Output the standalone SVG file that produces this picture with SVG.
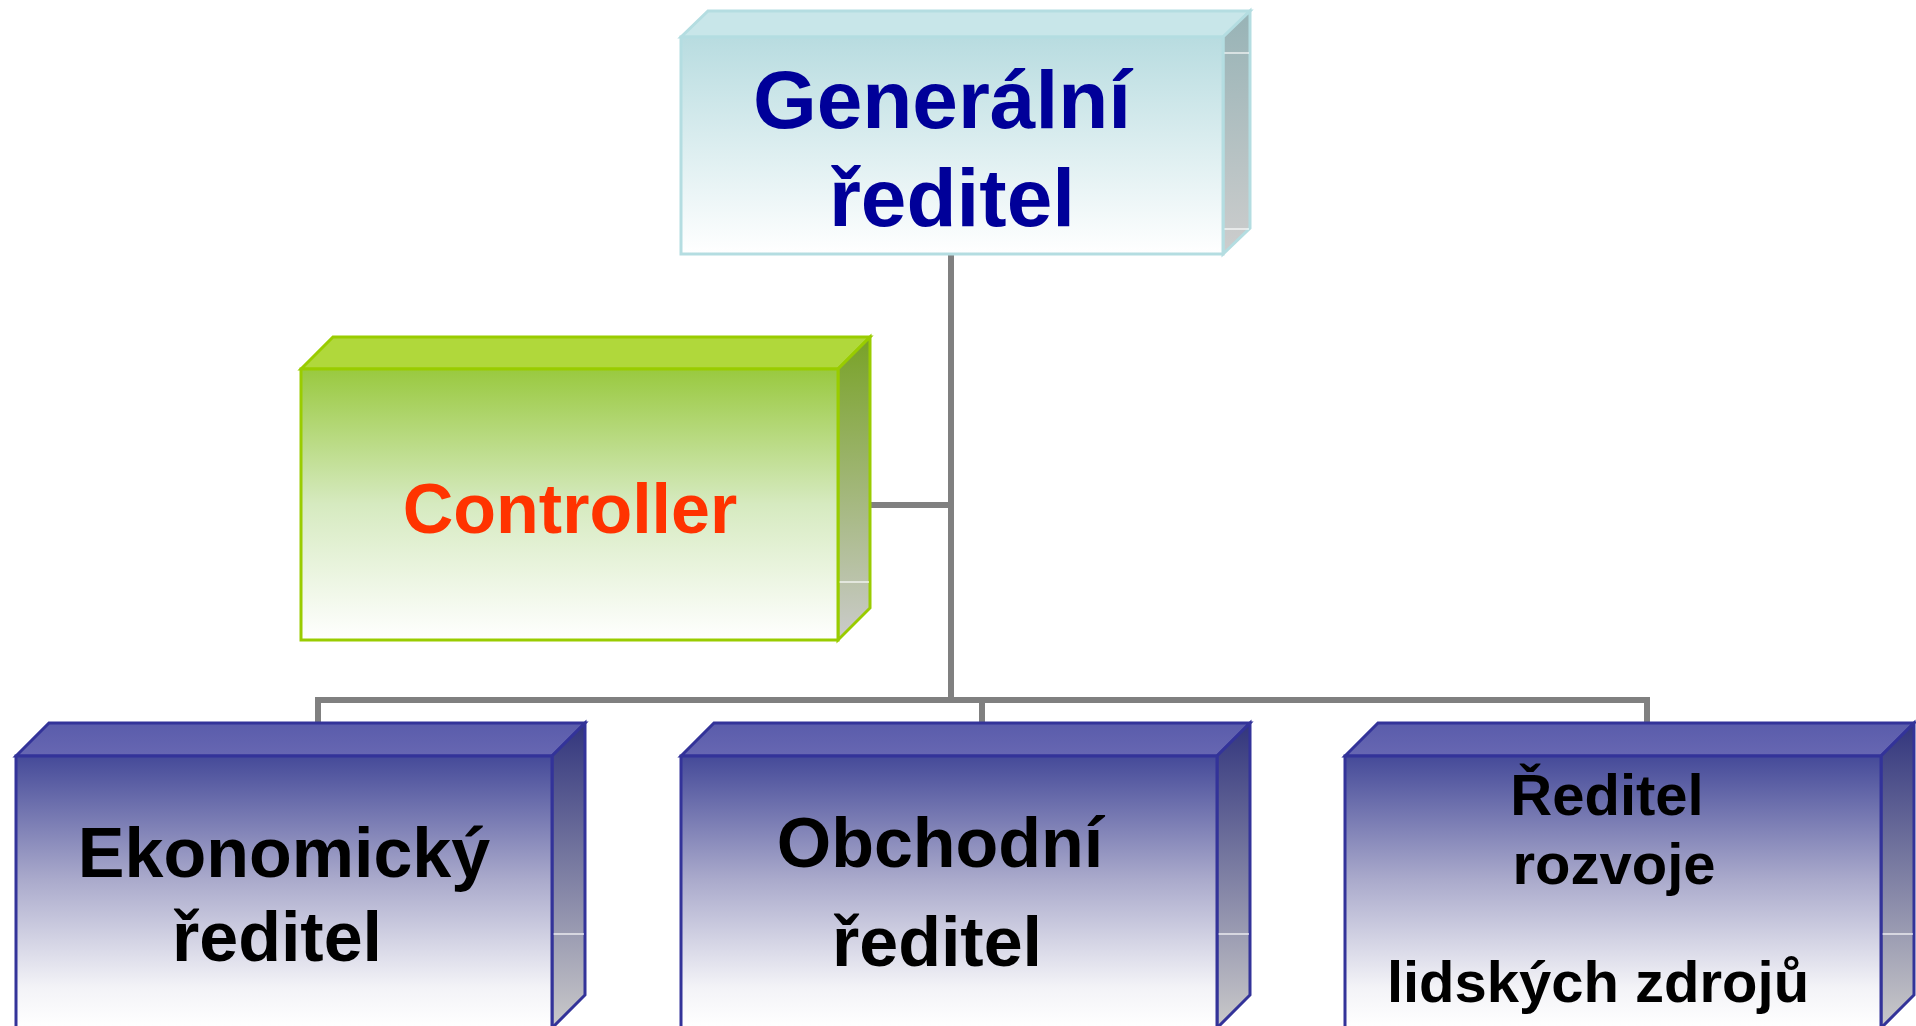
<svg xmlns="http://www.w3.org/2000/svg" width="1916" height="1026" viewBox="0 0 1916 1026">
<defs>
<linearGradient id="gTealFront" x1="0" y1="0" x2="0" y2="1"><stop offset="0" stop-color="#b8dce0"/><stop offset="1" stop-color="#ffffff"/></linearGradient>
<linearGradient id="gTealSide" x1="0" y1="0" x2="0" y2="1"><stop offset="0" stop-color="#97b3b6"/><stop offset="1" stop-color="#cdcdcd"/></linearGradient>
<linearGradient id="gGreenFront" x1="0" y1="0" x2="0" y2="1"><stop offset="0" stop-color="#99c93f"/><stop offset="0.5" stop-color="#d6eac0"/><stop offset="1" stop-color="#ffffff"/></linearGradient>
<linearGradient id="gGreenSide" x1="0" y1="0" x2="0" y2="1"><stop offset="0" stop-color="#78a226"/><stop offset="1" stop-color="#cbcbcb"/></linearGradient>
<linearGradient id="gBlueFront" x1="0" y1="0" x2="0" y2="1"><stop offset="0" stop-color="#454a99"/><stop offset="0.45" stop-color="#a9a9cb"/><stop offset="0.85" stop-color="#f3f3f7"/><stop offset="1" stop-color="#ffffff"/></linearGradient>
<linearGradient id="gBlueTop" x1="0" y1="0" x2="0" y2="1"><stop offset="0" stop-color="#5a5cab"/><stop offset="1" stop-color="#6767b2"/></linearGradient>
<linearGradient id="gBlueSide" x1="0" y1="0" x2="0" y2="1"><stop offset="0" stop-color="#32357d"/><stop offset="1" stop-color="#cacaca"/></linearGradient>
</defs>
<style>
.conn{stroke:#808080;stroke-width:6;fill:none}
.teal{stroke:#b4dde1;stroke-width:3;stroke-linejoin:miter}
.green{stroke:#99cc00;stroke-width:3;stroke-linejoin:miter}
.blue{stroke:#333399;stroke-width:3;stroke-linejoin:miter}
.hl{stroke:#ffffff;stroke-width:1.5;opacity:0.8}
text{font-family:"Liberation Sans",Arial,sans-serif;font-weight:bold;text-anchor:middle}
.t-top{fill:#000099;font-size:82px}
.t-ctrl{fill:#ff3300;font-size:70px}
.t-bot{fill:#000000;font-size:70px}
.t-bot3{fill:#000000;font-size:58px}
</style>
<g id="connectors">
<line class="conn" x1="951" y1="254" x2="951" y2="703"/>
<line class="conn" x1="870" y1="505" x2="951" y2="505"/>
<polyline class="conn" points="318,723 318,700 1647,700 1647,723"/>
<line class="conn" x1="982" y1="700" x2="982" y2="723"/>
</g>
<g id="node-generalni">
<polygon class="teal" fill="#c8e6e9" points="681,37 708,11 1250,11 1223,37"/>
<polygon class="teal" fill="url(#gTealSide)" points="1223,37 1250,11 1250,228 1223,254"/>
<line class="hl" x1="1224" y1="53" x2="1249" y2="53"/>
<line class="hl" x1="1224" y1="229" x2="1249" y2="229"/>
<rect class="teal" fill="url(#gTealFront)" x="681" y="37" width="542" height="217"/>
<text class="t-top" x="942" y="128">Generální</text>
<text class="t-top" x="952" y="226">ředitel</text>
</g>
<g id="node-controller">
<polygon class="green" fill="#b0d83b" points="301,369 333,337 870,337 838,369"/>
<polygon class="green" fill="url(#gGreenSide)" points="838,369 870,337 870,608 838,640"/>
<line class="hl" x1="839" y1="582" x2="869" y2="582"/>
<rect class="green" fill="url(#gGreenFront)" x="301" y="369" width="537" height="271"/>
<text class="t-ctrl" x="570" y="533">Controller</text>
</g>
<g id="node-ekonomicky">
<polygon class="blue" fill="url(#gBlueTop)" points="16,756 49,723 585,723 552,756"/>
<polygon class="blue" fill="url(#gBlueSide)" points="552,756 585,723 585,995 552,1028"/>
<line class="hl" x1="553" y1="934" x2="584" y2="934"/>
<rect class="blue" fill="url(#gBlueFront)" x="16" y="756" width="536" height="272"/>
<text class="t-bot" x="284" y="877">Ekonomický</text>
<text class="t-bot" x="277" y="961">ředitel</text>
</g>
<g id="node-obchodni">
<polygon class="blue" fill="url(#gBlueTop)" points="681,756 714,723 1250,723 1217,756"/>
<polygon class="blue" fill="url(#gBlueSide)" points="1217,756 1250,723 1250,995 1217,1028"/>
<line class="hl" x1="1218" y1="934" x2="1249" y2="934"/>
<rect class="blue" fill="url(#gBlueFront)" x="681" y="756" width="536" height="272"/>
<text class="t-bot" x="940" y="867">Obchodní</text>
<text class="t-bot" x="937" y="966">ředitel</text>
</g>
<g id="node-lidske-zdroje">
<polygon class="blue" fill="url(#gBlueTop)" points="1345,756 1378,723 1914,723 1881,756"/>
<polygon class="blue" fill="url(#gBlueSide)" points="1881,756 1914,723 1914,995 1881,1028"/>
<line class="hl" x1="1882" y1="934" x2="1913" y2="934"/>
<rect class="blue" fill="url(#gBlueFront)" x="1345" y="756" width="536" height="272"/>
<text class="t-bot3" x="1607" y="815">Ředitel</text>
<text class="t-bot3" x="1614" y="884">rozvoje</text>
<text class="t-bot3" x="1598" y="1002">lidských zdrojů</text>
</g>
</svg>
